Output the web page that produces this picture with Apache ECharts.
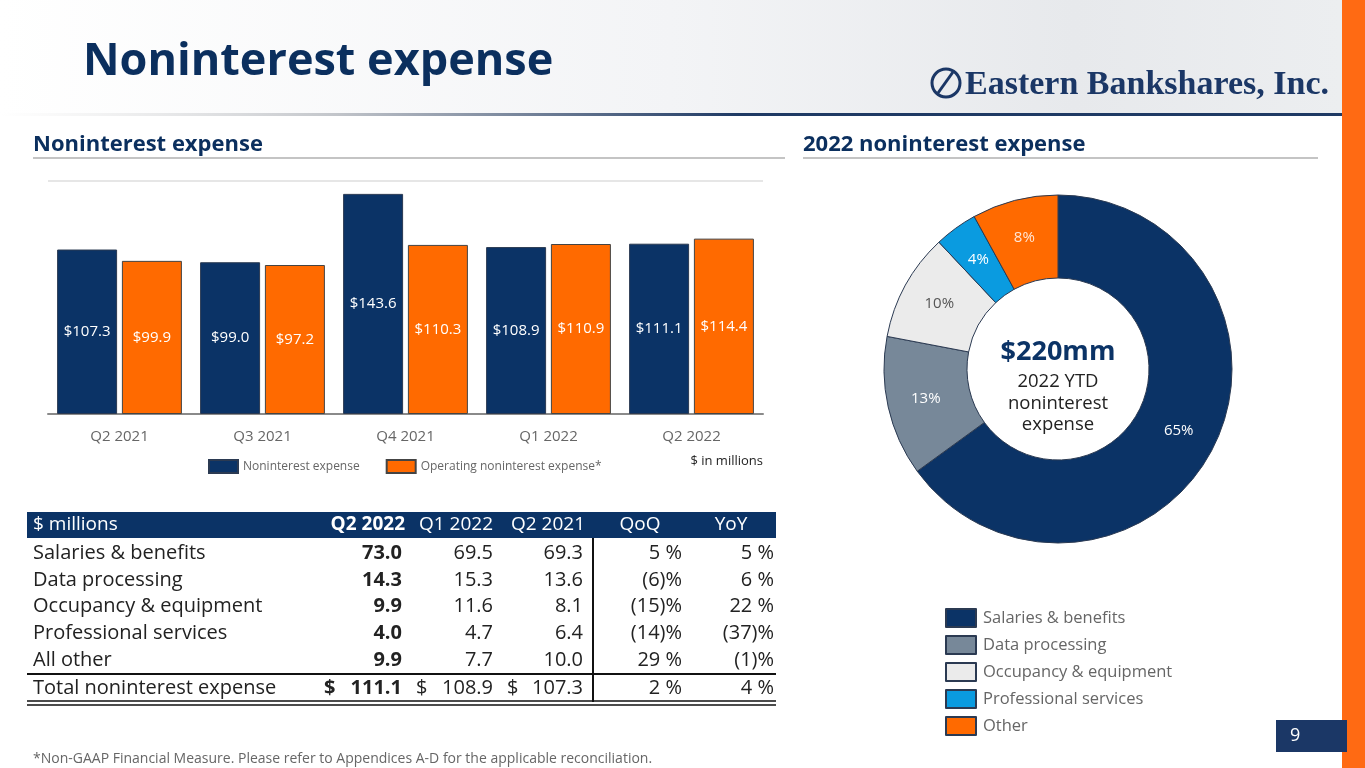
<!DOCTYPE html>
<html>
<head>
<meta charset="utf-8">
<title>Noninterest expense</title>
<script src="https://cdn.jsdelivr.net/npm/echarts@6/dist/echarts.min.js"></script>
<style>
    html, body { margin: 0; padding: 0; background: #fff; }
    #main { width: 1365px; height: 768px; }
</style>
</head>
<body>
<div id="main"></div>
<script>
// bar chart
const quarters = ['Q2 2021', 'Q3 2021', 'Q4 2021', 'Q1 2022', 'Q2 2022'];
const nonintExpense = [107.3, 99.0, 143.6, 108.9, 111.1];
const operatingExpense = [99.9, 97.2, 110.3, 110.9, 114.4];

// donut: 2022 YTD mix
const mixNames = ['Salaries & benefits', 'Data processing', 'Occupancy & equipment', 'Professional services', 'Other'];
const mixPct = [65, 13, 10, 4, 8];

// table
const tableHead = ['$ millions', 'Q2 2022', 'Q1 2022', 'Q2 2021', 'QoQ', 'YoY'];
const rowNames = ['Salaries & benefits', 'Data processing', 'Occupancy & equipment', 'Professional services', 'All other', 'Total noninterest expense'];
const colQ2_2022 = [73.0, 14.3, 9.9, 4.0, 9.9, 111.1];
const colQ1_2022 = [69.5, 15.3, 11.6, 4.7, 7.7, 108.9];
const colQ2_2021 = [69.3, 13.6, 8.1, 6.4, 10.0, 107.3];
const colQoQ = ['5 %', '(6)%', '(15)%', '(14)%', '29 %', '2 %'];
const colYoY = ['5 %', '6 %', '22 %', '(37)%', '(1)%', '4 %'];

const FONT = "'Open Sans', 'Noto Sans', sans-serif";
const NAVY = '#0B3366';
const ORANGE = '#FF6A00';
const mixColors = [NAVY, '#778899', '#EBEBEB', '#0A9BE0', ORANGE];
const mixLabelColors = ['#fff', '#fff', '#555', '#fff', '#ffe6d5'];

function txt(text, x, y, opt) {
    opt = opt || {};
    return {
        type: 'text',
        z: 10,
        style: {
            text: text,
            x: x,
            y: y,
            fill: opt.fill || '#222',
            fontSize: opt.size || 18,
            fontWeight: opt.weight || 'normal',
            fontFamily: opt.family || FONT,
            align: opt.align || 'left',
            textAlign: opt.align || 'left',
            verticalAlign: 'middle',
            textVerticalAlign: 'middle'
        }
    };
}

// table built from the arrays above
let graphics = [];
const colRight = [null, 402, 493, 583, 682, 774];
const HS = 19, RS = 20;
graphics.push({ type: 'rect', shape: { x: 27, y: 512, width: 749, height: 26 }, style: { fill: NAVY } });
graphics.push(txt(tableHead[0], 33, 525, { fill: '#fff', size: HS }));
graphics.push(txt(tableHead[1], 405, 525, { fill: '#fff', size: HS, weight: 'bold', align: 'right' }));
graphics.push(txt(tableHead[2], 493, 525, { fill: '#fff', size: HS, align: 'right' }));
graphics.push(txt(tableHead[3], 585, 525, { fill: '#fff', size: HS, align: 'right' }));
graphics.push(txt(tableHead[4], 640, 525, { fill: '#fff', size: HS, align: 'center' }));
graphics.push(txt(tableHead[5], 731, 525, { fill: '#fff', size: HS, align: 'center' }));

const rowY = [553, 580, 606, 633, 660, 688];
rowNames.forEach(function(name, i) {
    let y = rowY[i];
    let total = i === rowNames.length - 1;
    graphics.push(txt(name, 33, y, { size: RS }));
    graphics.push(txt(colQ2_2022[i].toFixed(1), colRight[1], y, { size: RS, weight: 'bold', align: 'right' }));
    graphics.push(txt(colQ1_2022[i].toFixed(1), colRight[2], y, { size: RS, align: 'right' }));
    graphics.push(txt(colQ2_2021[i].toFixed(1), colRight[3], y, { size: RS, align: 'right' }));
    graphics.push(txt(colQoQ[i], colRight[4], y, { size: RS, align: 'right' }));
    graphics.push(txt(colYoY[i], colRight[5], y, { size: RS, align: 'right' }));
    if (total) {
        graphics.push(txt('$', 324, y, { size: RS, weight: 'bold' }));
        graphics.push(txt('$', 416, y, { size: RS }));
        graphics.push(txt('$', 507, y, { size: RS }));
    }
});
// table rules
graphics.push({ type: 'line', shape: { x1: 27, y1: 674, x2: 776, y2: 674 }, style: { stroke: '#111', lineWidth: 2 } });
graphics.push({ type: 'line', shape: { x1: 27, y1: 701, x2: 776, y2: 701 }, style: { stroke: '#111', lineWidth: 1.5 } });
graphics.push({ type: 'line', shape: { x1: 27, y1: 705, x2: 776, y2: 705 }, style: { stroke: '#111', lineWidth: 1.5 } });
graphics.push({ type: 'line', shape: { x1: 593, y1: 538, x2: 593, y2: 702 }, style: { stroke: '#111', lineWidth: 2 } });

// page furniture
graphics.push({
    type: 'rect', z: 0,
    shape: { x: 0, y: 0, width: 1342, height: 113 },
    style: {
        fill: new echarts.graphic.LinearGradient(0, 0, 1, 0, [
            { offset: 0, color: '#ffffff' },
            { offset: 0.5, color: '#f3f4f6' },
            { offset: 0.8, color: '#e7e9ec' },
            { offset: 1, color: '#eceef0' }
        ])
    }
});
graphics.push({
    type: 'rect', z: 1,
    shape: { x: 0, y: 113, width: 1342, height: 3 },
    style: {
        fill: new echarts.graphic.LinearGradient(0, 0, 1, 0, [
            { offset: 0, color: 'rgba(220,220,220,0)' },
            { offset: 0.25, color: '#c2c5ca' },
            { offset: 0.55, color: '#1F3A64' },
            { offset: 1, color: '#1F3A64' }
        ])
    }
});
graphics.push({ type: 'rect', shape: { x: 1342, y: 0, width: 23, height: 768 }, style: { fill: '#FF6A13' } });
graphics.push(txt('Noninterest expense', 83, 62, { fill: '#0B2F5E', size: 45, weight: 'bold' }));
graphics.push({ type: 'circle', z: 10, shape: { cx: 946, cy: 83, r: 14 }, style: { fill: 'none', stroke: '#1B3766', lineWidth: 3 } });
graphics.push({ type: 'line', z: 10, shape: { x1: 938, y1: 93, x2: 953, y2: 72 }, style: { stroke: '#1B3766', lineWidth: 3 } });
graphics.push(txt('Eastern Bankshares, Inc.', 1329, 85, { fill: '#1B3766', size: 34, weight: 'bold', family: "'Liberation Serif', serif", align: 'right' }));

graphics.push(txt('Noninterest expense', 33, 145, { fill: '#0B2F5E', size: 22, weight: 'bold' }));
graphics.push(txt('2022 noninterest expense', 803, 145, { fill: '#0B2F5E', size: 22, weight: 'bold' }));
graphics.push({ type: 'line', shape: { x1: 33, y1: 158, x2: 785, y2: 158 }, style: { stroke: '#c4c4c4', lineWidth: 2 } });
graphics.push({ type: 'line', shape: { x1: 803, y1: 158, x2: 1318, y2: 158 }, style: { stroke: '#c4c4c4', lineWidth: 2 } });

graphics.push(txt('$ in millions', 763, 461, { size: 13, align: 'right' }));

// donut centre
graphics.push(txt('$220mm', 1058, 352, { fill: NAVY, size: 27, weight: 'bold', align: 'center' }));
graphics.push(txt('2022 YTD', 1058, 382, { size: 18.5, align: 'center' }));
graphics.push(txt('noninterest', 1058, 404, { size: 18.5, align: 'center' }));
graphics.push(txt('expense', 1058, 425, { size: 18.5, align: 'center' }));

graphics.push(txt('*Non-GAAP Financial Measure. Please refer to Appendices A-D for the applicable reconciliation.', 33, 759, { size: 14, fill: '#666' }));
graphics.push({ type: 'rect', z: 10, shape: { x: 1276, y: 720, width: 71, height: 32 }, style: { fill: '#1B3766' } });
graphics.push(txt('9', 1290, 736, { fill: '#fff', size: 18 }));

let myChart = echarts.init(document.getElementById('main'));
let option = {
    backgroundColor: '#fff',
    animation: false,
    textStyle: { fontFamily: FONT },
    legend: [
        {
            data: ['Noninterest expense', 'Operating noninterest expense*'],
            left: 208,
            top: 459,
            padding: 0,
            icon: 'rect',
            itemWidth: 29,
            itemHeight: 13,
            itemGap: 26,
            textStyle: { fontSize: 12, color: '#666', fontFamily: FONT }
        },
        {
            data: mixNames,
            orient: 'vertical',
            left: 945,
            top: 608,
            padding: 0,
            icon: 'rect',
            itemWidth: 30,
            itemHeight: 18,
            itemGap: 7,
            textStyle: { fontSize: 16.5, color: '#666', fontFamily: FONT, padding: [0, 0, 0, 2] }
        }
    ],
    grid: { left: 48, top: 181, width: 715, height: 233 },
    xAxis: {
        type: 'category',
        data: quarters,
        axisTick: { show: false },
        axisLine: { lineStyle: { color: '#8a8a8a', width: 2 } },
        axisLabel: { color: '#666', fontSize: 15, margin: 15 }
    },
    yAxis: {
        type: 'value',
        min: 0,
        max: 152,
        interval: 152,
        axisLabel: { show: false },
        axisLine: { show: false },
        axisTick: { show: false },
        splitLine: { lineStyle: { color: '#e6e6e6', width: 2 } }
    },
    series: [
        {
            name: 'Noninterest expense',
            type: 'bar',
            data: nonintExpense,
            barWidth: 60,
            barGap: '8%',
            itemStyle: { color: NAVY, borderColor: '#2b3a52', borderWidth: 1 },
            label: {
                show: true,
                position: 'inside',
                color: '#fff',
                fontSize: 15,
                formatter: function(p) { return '$' + p.value.toFixed(1); }
            }
        },
        {
            name: 'Operating noninterest expense*',
            type: 'bar',
            data: operatingExpense,
            barWidth: 60,
            itemStyle: { color: ORANGE, borderColor: '#444', borderWidth: 1 },
            label: {
                show: true,
                position: 'inside',
                color: '#fff',
                fontSize: 15,
                formatter: function(p) { return '$' + p.value.toFixed(1); }
            }
        },
        {
            name: 'Mix',
            type: 'pie',
            center: [1058, 369],
            radius: [91, 174],
            startAngle: 90,
            clockwise: true,
            data: mixNames.map(function(n, i) {
                return {
                    name: n,
                    value: mixPct[i],
                    itemStyle: { color: mixColors[i] },
                    label: { color: mixLabelColors[i] }
                };
            }),
            itemStyle: { borderColor: '#2b3a52', borderWidth: 1 },
            label: {
                show: true,
                position: 'inside',
                fontSize: 15,
                formatter: '{c}%'
            },
            labelLine: { show: false },
            emphasis: { disabled: true }
        }
    ],
    graphic: graphics
};
myChart.setOption(option);
</script>
</body>
</html>
